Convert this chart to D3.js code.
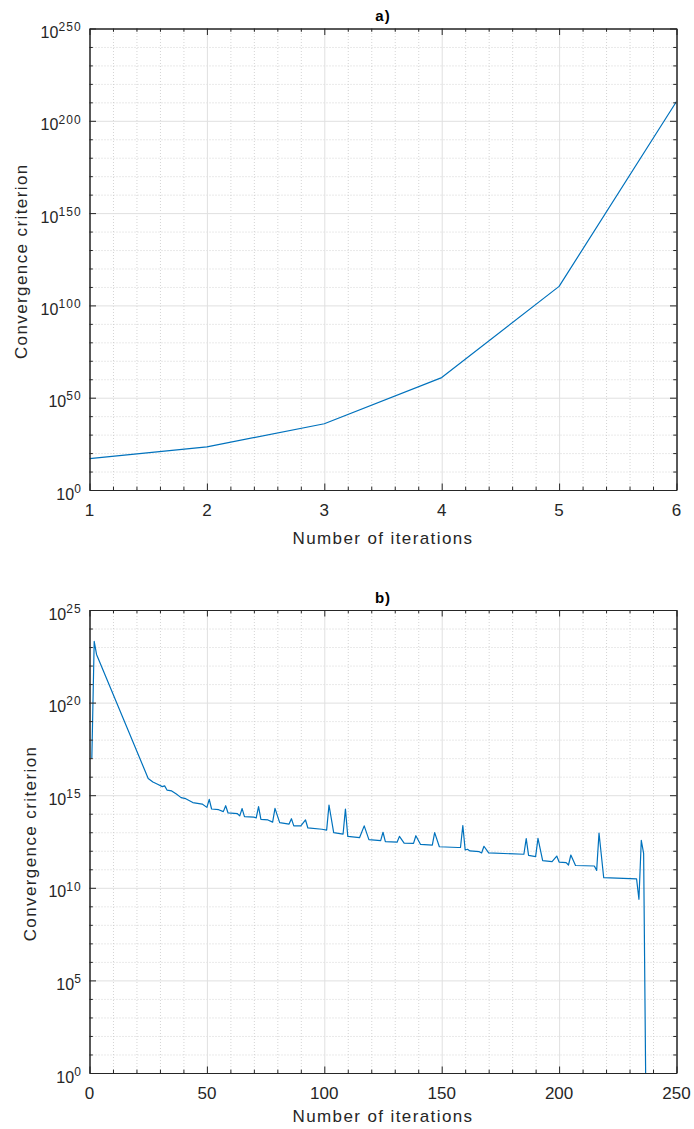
<!DOCTYPE html>
<html>
<head>
<meta charset="utf-8">
<script src="https://cdn.jsdelivr.net/npm/d3@7"></script>
<style>
  body { margin: 0; background: #fff; }
  svg { display: block; font-family: "Liberation Sans", Arial, Helvetica, sans-serif; }
</style>
</head>
<body>
<svg id="chart" width="694" height="1129"></svg>
<script>
"use strict";

// panel a) - 6 iterations
const iterA = [1, 2, 3, 4, 5, 6];
const critA = [1e17, 2.5e23, 8e35, 8e60, 2e110, 3e210];
const xTicksA = [1, 2, 3, 4, 5, 6];
const yExpA = [0, 50, 100, 150, 200, 250]; // 10^e tick labels

// panel b) (only the corners of the line)
const iterB = [
  1, 2, 3, 25, 27, 29, 31, 32, 33, 35,
  37, 39, 41, 44, 48, 50, 51, 52, 55, 57,
  58, 59, 63, 64, 65, 66, 70, 71, 72, 73,
  76, 78, 79, 81, 85, 86, 87, 90, 92, 93,
  99, 101, 102, 104, 108, 109, 110, 115, 117, 119,
  124, 125, 126, 131, 132, 134, 138, 139, 141, 146,
  147, 149, 157, 158, 159, 160, 161, 162, 166, 167,
  168, 170, 185, 186, 187, 190, 191, 193, 197, 199,
  200, 203, 204, 205, 207, 215, 216, 217, 219, 233,
  234, 235, 236, 237
];
const critB = [
  1e17, 2e23, 4e22, 8e15, 5.2e15, 3.9e15, 2.9e15, 3.2e15, 1.9e15, 1.7e15,
  1.15e15, 7.4e14, 6.5e14, 4e14, 3.3e14, 2.2e14, 6e14, 1.8e14, 1.65e14, 1.3e14,
  2.7e14, 1.1e14, 1e14, 7.6e13, 1.9e14, 6.9e13, 6.5e13, 5.9e13, 2.4e14, 5e13,
  4.6e13, 3.5e13, 1.95e14, 3.3e13, 2.75e13, 5.4e13, 2.2e13, 2.2e13, 4.6e13, 1.7e13,
  1.45e13, 1.3e13, 2.95e14, 9.5e12, 8e12, 1.8e14, 6e12, 5.1e12, 2.2e13, 4e12,
  3.5e12, 1e13, 3.1e12, 2.9e12, 6e12, 2.6e12, 2.5e12, 6.5e12, 2.2e12, 2e12,
  9.5e12, 1.65e12, 1.5e12, 1.5e12, 2.3e13, 1.1e12, 1.2e12, 9.8e11, 8.9e11, 7.6e11,
  1.75e12, 7.6e11, 6.5e11, 4.5e12, 5.6e11, 4.8e11, 4.7e12, 2.9e11, 2.6e11, 5.2e11,
  2.45e11, 2.3e11, 1.7e11, 5.9e11, 1.6e11, 1.5e11, 8.7e10, 9.1e12, 3.5e10, 3e10,
  2.4e9, 3.6e12, 7.2e11, 1e-2
];
const xTicksB = [0, 50, 100, 150, 200, 250];
const yExpB = [0, 5, 10, 15, 20, 25];

const axisColor = "#262626";
const lineColor = "#0072bd";

const svg = d3.select("#chart");

function drawPanel(cfg) {
  const w = 587, h = cfg.h;
  const g = svg.append("g").attr("transform", `translate(${cfg.left},${cfg.top})`);

  const x = d3.scaleLinear().domain(cfg.xDomain).range([0, w]);
  const y = d3.scaleLog().domain([1, Math.pow(10, cfg.yExp[cfg.yExp.length - 1])]).range([h, 0]);

  // tick values: majors from the labels, minors in between
  const yMajor = cfg.yExp.map((e) => Math.pow(10, e));
  const yMinor = [];
  for (let e = cfg.yExp[0]; e <= cfg.yExp[cfg.yExp.length - 1]; e += cfg.yMinorStep) {
    if (!cfg.yExp.includes(e)) yMinor.push(Math.pow(10, e));
  }
  const xMinor = d3.range(cfg.xDomain[0], cfg.xDomain[1] + 1e-9, cfg.xMinorStep)
    .filter((v) => !cfg.xTicks.some((t) => Math.abs(t - v) < 1e-6));

  // grid - minor dotted, major solid
  const gridMinor = g.append("g").attr("class", "grid-minor");
  gridMinor.append("g").call(d3.axisLeft(y).tickValues(yMinor).tickSize(-w).tickFormat(""));
  gridMinor.append("g").attr("transform", `translate(0,${h})`)
    .call(d3.axisBottom(x).tickValues(xMinor).tickSize(-h).tickFormat(""));
  gridMinor.selectAll(".domain").remove();
  gridMinor.selectAll("line").attr("stroke", "#c9c9c9").attr("stroke-width", 0.8)
    .attr("stroke-dasharray", "1,2");

  const gridMajor = g.append("g").attr("class", "grid-major");
  gridMajor.append("g").call(d3.axisLeft(y).tickValues(yMajor).tickSize(-w).tickFormat(""));
  gridMajor.append("g").attr("transform", `translate(0,${h})`)
    .call(d3.axisBottom(x).tickValues(cfg.xTicks).tickSize(-h).tickFormat(""));
  gridMajor.selectAll(".domain").remove();
  gridMajor.selectAll("line").attr("stroke", "#e0e0e0").attr("stroke-width", 1);

  // the data line, clipped to the plot box
  g.append("clipPath").attr("id", cfg.id + "-clip")
    .append("rect").attr("width", w).attr("height", h);

  const line = d3.line()
    .x((d) => x(d[0]))
    .y((d) => y(d[1]));

  g.append("path")
    .datum(cfg.xs.map((v, i) => [v, cfg.ys[i]]))
    .attr("clip-path", `url(#${cfg.id}-clip)`)
    .attr("d", line)
    .attr("fill", "none")
    .attr("stroke", lineColor)
    .attr("stroke-width", 1.2)
    .attr("stroke-linejoin", "round");

  // box with inward ticks on all four sides
  const tick = 6.5, minorTick = 3.3;
  const sides = [
    { ax: d3.axisLeft, scale: y, major: yMajor, minor: yMinor, tr: "translate(0,0)" },
    { ax: d3.axisRight, scale: y, major: yMajor, minor: yMinor, tr: `translate(${w},0)` },
    { ax: d3.axisBottom, scale: x, major: cfg.xTicks, minor: xMinor, tr: `translate(0,${h})` },
    { ax: d3.axisTop, scale: x, major: cfg.xTicks, minor: xMinor, tr: "translate(0,0)" }
  ];
  sides.forEach((s) => {
    const a = g.append("g").attr("transform", s.tr);
    a.append("g").call(s.ax(s.scale).tickValues(s.minor).tickSize(-minorTick).tickSizeOuter(0).tickFormat(""));
    a.append("g").call(s.ax(s.scale).tickValues(s.major).tickSize(-tick).tickSizeOuter(0).tickFormat(""));
    a.selectAll(".domain").attr("stroke", axisColor);
    a.selectAll("line").attr("stroke", axisColor);
    a.selectAll("text").remove();
  });

  // y tick labels 10^e
  g.selectAll("text.ylab")
    .data(cfg.yExp)
    .enter()
    .append("text")
    .attr("class", "ylab")
    .attr("x", -7.5)
    .attr("y", (e) => y(Math.pow(10, e)) + 9.5)
    .attr("text-anchor", "end")
    .attr("fill", axisColor)
    .style("font-size", "16px")
    .each(function (e) {
      const t = d3.select(this);
      t.append("tspan").text("10");
      t.append("tspan").attr("dy", -6.8).style("font-size", "12px")
        .style("letter-spacing", "1.2px").text(e);
    });

  // x tick labels
  g.selectAll("text.xlab")
    .data(cfg.xTicks)
    .enter()
    .append("text")
    .attr("class", "xlab")
    .attr("x", (d) => x(d))
    .attr("y", h + 26)
    .attr("text-anchor", "middle")
    .attr("fill", axisColor)
    .style("font-size", "17px")
    .text((d) => d);

  // title + axis labels
  g.append("text")
    .attr("x", w / 2)
    .attr("y", -7.5)
    .attr("text-anchor", "middle")
    .attr("fill", "#000")
    .style("font-size", "15px")
    .style("font-weight", "bold")
    .style("letter-spacing", "1px")
    .text(cfg.title);

  g.append("text")
    .attr("x", w / 2)
    .attr("y", h + cfg.xLabelDy)
    .attr("text-anchor", "middle")
    .attr("fill", axisColor)
    .style("font-size", "17px")
    .style("letter-spacing", "1.4px")
    .text("Number of iterations");

  g.append("text")
    .attr("transform", `translate(${cfg.yLabelX},${h / 2 + 2}) rotate(-90)`)
    .attr("text-anchor", "middle")
    .attr("fill", axisColor)
    .style("font-size", "17px")
    .style("letter-spacing", "1.4px")
    .text("Convergence criterion");
}

drawPanel({
  id: "pa", left: 89.5, top: 28.5, h: 461.5,
  xDomain: [1, 6], xTicks: xTicksA, xMinorStep: 0.2,
  yExp: yExpA, yMinorStep: 10,
  xs: iterA, ys: critA, title: "a)", yLabelX: 27 - 89.5, xLabelDy: 54
});

drawPanel({
  id: "pb", left: 89.5, top: 610, h: 463,
  xDomain: [0, 250], xTicks: xTicksB, xMinorStep: 10,
  yExp: yExpB, yMinorStep: 1,
  xs: iterB, ys: critB, title: "b)", yLabelX: 36 - 89.5, xLabelDy: 49
});
</script>
</body>
</html>
